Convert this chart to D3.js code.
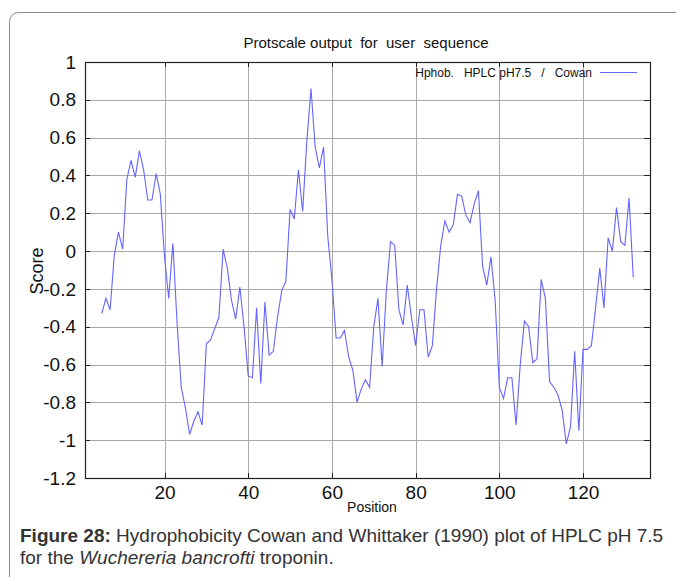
<!DOCTYPE html>
<html>
<head>
<meta charset="utf-8">
<script src="https://cdn.jsdelivr.net/npm/d3@7"></script>
<style>
  body { margin: 0; background: #fff; }
  svg { display: block; font-family: "Liberation Sans", Arial, sans-serif; }
</style>
</head>
<body>
<svg id="graph" width="676" height="577"></svg>
<script>
/*******************************************************************************************/
// Data

var firstPos = 5;
var scores = [
  -0.33, -0.25, -0.31, -0.02, 0.10, 0.01, 0.38, 0.48, 0.39, 0.53,
   0.43, 0.27, 0.27, 0.41, 0.30, -0.03, -0.25, 0.04, -0.38, -0.72,
  -0.83, -0.97, -0.90, -0.85, -0.92, -0.49, -0.47, -0.41, -0.35, 0.01,
  -0.09, -0.26, -0.36, -0.19, -0.40, -0.66, -0.67, -0.30, -0.70, -0.27,
  -0.55, -0.53, -0.35, -0.21, -0.16, 0.22, 0.17, 0.43, 0.21, 0.58,
   0.86, 0.55, 0.44, 0.55, 0.08, -0.15, -0.46, -0.46, -0.42, -0.56,
  -0.63, -0.80, -0.73, -0.68, -0.72, -0.40, -0.25, -0.61, -0.21, 0.05,
   0.03, -0.31, -0.39, -0.18, -0.35, -0.50, -0.31, -0.31, -0.56, -0.50,
  -0.20, 0.03, 0.16, 0.10, 0.14, 0.30, 0.29, 0.19, 0.15, 0.25,
   0.32, -0.08, -0.18, -0.03, -0.26, -0.72, -0.78, -0.67, -0.67, -0.92,
  -0.60, -0.37, -0.40, -0.59, -0.57, -0.15, -0.25, -0.69, -0.72, -0.76,
  -0.84, -1.02, -0.93, -0.53, -0.95, -0.52, -0.52, -0.50, -0.30, -0.09,
  -0.30, 0.07, 0.00, 0.23, 0.05, 0.03, 0.28, -0.14
];
var xTicks = [20, 40, 60, 80, 100, 120];
var yTicks = [1, 0.8, 0.6, 0.4, 0.2, 0, -0.2, -0.4, -0.6, -0.8, -1, -1.2];
var xDomain = [1, 136];
var yDomain = [-1.2, 1];

var title = 'Protscale output  for  user  sequence';
var legendLabel = 'Hphob.   HPLC pH7.5   /   Cowan';

/*******************************************************************************************/
// Setup

var svg = d3.select('#graph');
var pLeft = 85, pRight = 650, pTop = 62, pBottom = 478;
var gridColor = '#a9a9a9', lineColor = '#6464ff';

var xScale = d3.scaleLinear().domain(xDomain).range([pLeft, pRight]);
var yScale = d3.scaleLinear().domain(yDomain).range([pBottom, pTop]);

var points = scores.map(function(v, i){ return { x: firstPos + i, y: v }; });
var lineGen = d3.line().x(function(d){ return xScale(d.x) }).y(function(d){ return yScale(d.y) });

function snapY(d){ return Math.round(yScale(d)) + 0.5 }
function snapX(d){ return Math.round(xScale(d)) + 0.5 }

// figure border
svg.append('rect').attr('x', 9.5).attr('y', 12.5).attr('width', 700).attr('height', 620)
   .attr('rx', 9).attr('fill', 'none').attr('stroke', '#8a8a8a').attr('stroke-width', 1);

// grid
svg.append('g').selectAll('line').data(yTicks.filter(function(t){ return t < 1 && t > -1.2 })).enter()
   .append('line')
   .attr('x1', pLeft).attr('x2', pRight).attr('y1', snapY).attr('y2', snapY)
   .attr('stroke', gridColor).attr('stroke-width', 1);

svg.append('g').selectAll('line').data(xTicks).enter()
   .append('line')
   .attr('x1', snapX).attr('x2', snapX).attr('y1', pTop).attr('y2', pBottom)
   .attr('stroke', gridColor).attr('stroke-width', 1);

// axes
var yAxisL = d3.axisLeft(yScale).tickValues(yTicks).tickSize(0).tickPadding(8)
               .tickFormat(function(d){ return String(d) });
var xAxisB = d3.axisBottom(xScale).tickValues(xTicks).tickSize(0).tickPadding(8)
               .tickFormat(function(d){ return String(d) });

svg.append('g').attr('id', 'yAxis').attr('transform', 'translate(' + (pLeft - 1) + ',0)').call(yAxisL);
svg.append('g').attr('id', 'xAxis').attr('transform', 'translate(0,' + pBottom + ')').call(xAxisB);

svg.selectAll('#yAxis .domain, #xAxis .domain').remove();
svg.selectAll('#yAxis text, #xAxis text').attr('fill', '#111').style('font-size', '19px')
   .style('font-family', '"Liberation Sans", Arial, sans-serif');

// mirrored tick marks
svg.append('g').selectAll('line').data(yTicks).enter().append('line')
   .attr('x1', pRight - 6).attr('x2', pRight).attr('y1', snapY).attr('y2', snapY).attr('stroke', '#222');
svg.append('g').selectAll('line').data(yTicks).enter().append('line')
   .attr('x1', pLeft).attr('x2', pLeft + 5).attr('y1', snapY).attr('y2', snapY).attr('stroke', '#222');
svg.append('g').selectAll('line').data(xTicks).enter().append('line')
   .attr('x1', snapX).attr('x2', snapX).attr('y1', pTop).attr('y2', pTop + 5).attr('stroke', '#222');
svg.append('g').selectAll('line').data(xTicks).enter().append('line')
   .attr('x1', snapX).attr('x2', snapX).attr('y1', pBottom - 5).attr('y2', pBottom).attr('stroke', '#222');

// frame
svg.append('rect').attr('x', pLeft + 0.5).attr('y', pTop + 0.5)
   .attr('width', pRight - pLeft).attr('height', pBottom - pTop)
   .attr('fill', 'none').attr('stroke', '#222').attr('stroke-width', 1.2);

// series
svg.append('path').datum(points).attr('d', lineGen)
   .attr('fill', 'none').attr('stroke', lineColor).attr('stroke-width', 1.1);

// legend
svg.append('text').attr('x', 592).attr('y', 77).attr('text-anchor', 'end')
   .style('font-size', '12px').attr('fill', '#111').style('white-space', 'pre')
   .attr('xml:space', 'preserve').text(legendLabel);
svg.append('line').attr('x1', 600).attr('x2', 637).attr('y1', 72.5).attr('y2', 72.5)
   .attr('stroke', lineColor).attr('stroke-width', 1);

// titles
svg.append('text').attr('x', 366).attr('y', 48).attr('text-anchor', 'middle')
   .style('font-size', '15px').attr('fill', '#111').style('white-space', 'pre')
   .attr('xml:space', 'preserve').text(title);
svg.append('text').attr('x', 372).attr('y', 512).attr('text-anchor', 'middle')
   .style('font-size', '14px').attr('fill', '#111').text('Position');
svg.append('text').attr('transform', 'translate(43,271) rotate(-90)').attr('text-anchor', 'middle')
   .style('font-size', '18px').attr('fill', '#111').text('Score');

// caption
var cap = svg.append('text').attr('x', 20).attr('y', 542).style('font-size', '19px').attr('fill', '#333');
cap.append('tspan').style('font-weight', 'bold').text('Figure 28:');
cap.append('tspan').text(' Hydrophobicity Cowan and Whittaker (1990) plot of HPLC pH 7.5');
var cap2 = svg.append('text').attr('x', 20).attr('y', 564).style('font-size', '19px').attr('fill', '#333');
cap2.append('tspan').text('for the ');
cap2.append('tspan').style('font-style', 'italic').text('Wuchereria bancrofti');
cap2.append('tspan').text(' troponin.');
</script>
</body>
</html>
